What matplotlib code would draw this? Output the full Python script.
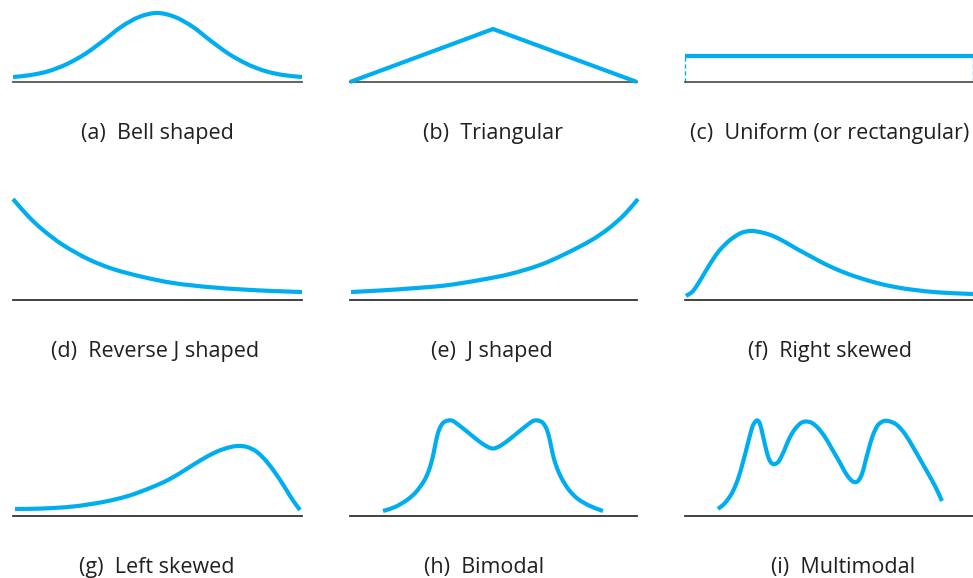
import matplotlib.pyplot as plt
from matplotlib.path import Path
from matplotlib.patches import PathPatch

# Formas de distribuciones: cada curva en unidades locales del panel
# (x a lo largo de la linea base, y altura sobre la linea base)

labels = ['(a)  Bell shaped', '(b)  Triangular', '(c)  Uniform (or rectangular)',
          '(d)  Reverse J shaped', '(e)  J shaped', '(f)  Right skewed',
          '(g)  Left skewed', '(h)  Bimodal', '(i)  Multimodal']

bell_x = [0, 18, 36, 54, 72, 90, 108, 126, 144, 162, 180, 198, 216, 234, 252, 270, 289]
bell_y = [5, 7, 11, 18, 28, 41, 55, 65, 69, 65, 55, 41, 28, 18, 11, 7, 5]

tri_x = [0, 143, 287]
tri_y = [0, 53, 0]

unif_x = [0, 288]
unif_y = [26, 26]

revj_x = [0, 15, 30, 50, 75, 100, 130, 160, 195, 230, 260, 289]
revj_y = [101, 84, 70, 55, 41, 31, 23, 17, 13, 10.5, 9, 8]

j_x = [1, 30, 60, 95, 130, 160, 190, 215, 240, 258, 274, 288]
j_y = [8, 9.5, 11.5, 14.5, 20, 26, 35, 46, 59, 71, 85, 101]

rskew_x = [1, 8, 16, 25, 34, 45, 56, 66, 77, 88, 100, 112, 125, 140, 158, 175, 192, 210, 230, 255, 288]
rskew_y = [4, 9, 21, 36, 49, 60, 67, 69, 67.5, 64, 58, 51, 44, 36, 28, 22, 17, 13, 10, 7.5, 6]

lskew_x = [2, 30, 60, 90, 115, 137, 155, 172, 188, 203, 214, 224, 234, 244, 254, 263, 271, 279, 287]
lskew_y = [7, 7.5, 9.5, 14, 20, 28, 36, 46, 56, 64, 68, 70, 69, 64, 54, 42, 30, 17, 6]

bimod_x = [33, 45, 57, 66, 74, 79, 83, 86, 89, 93, 98, 103, 110, 120, 130, 138, 143, 148,
           156, 166, 176, 183, 188, 193, 197, 200, 203, 207, 212, 219, 228, 240, 253]
bimod_y = [5, 9, 16, 24, 35, 46, 60, 75, 86, 93, 95.5, 95, 90, 82, 74, 69, 67.5, 69,
           74, 82, 90, 95, 95.5, 93, 86, 75, 61, 48, 37, 26, 17, 10, 5]

multi_x = [33, 40, 47, 53, 58, 63, 67, 70, 72.5, 75, 78, 81, 84, 87, 90, 94, 99, 104, 110,
           116, 121, 127, 133, 140, 147, 154, 160, 165, 169, 173, 177, 180, 184, 188, 193,
           199, 205, 212, 220, 228, 236, 244, 251, 257]
multi_y = [7, 13, 23, 37, 54, 73, 88, 94, 95.5, 92, 80, 67, 57, 52.5, 52, 55, 65, 77, 87,
           93, 94.5, 93, 88, 79, 67, 55, 44, 37, 34, 35, 42, 53, 68, 81, 91,
           95, 94.5, 91, 82, 69, 55, 41, 28, 15]

curves = [(bell_x, bell_y), (tri_x, tri_y), (unif_x, unif_y),
          (revj_x, revj_y), (j_x, j_y), (rskew_x, rskew_y),
          (lskew_x, lskew_y), (bimod_x, bimod_y), (multi_x, multi_y)]

# Posicion de los paneles en pixeles (figura 973 x 578)
col_left = [13, 350, 685]
col_width = [289, 287, 288]
row_base = [82, 300, 516]
label_x = [144, 143, 145, 142, 142, 145, 144, 134, 158]

azul = '#00aeef'
W, H = 973, 578


def curva_suave(xs, ys):
    # Catmull-Rom pasando por los puntos leidos, dibujado como Bezier cubico
    p = list(zip(xs, ys))
    ini = (2 * p[0][0] - p[1][0], 2 * p[0][1] - p[1][1])
    fin = (2 * p[-1][0] - p[-2][0], 2 * p[-1][1] - p[-2][1])
    p = [ini] + p + [fin]
    verts = [p[1]]
    codes = [Path.MOVETO]
    for i in range(1, len(p) - 2):
        p0, p1, p2, p3 = p[i - 1], p[i], p[i + 1], p[i + 2]
        c1 = (p1[0] + (p2[0] - p0[0]) / 6, p1[1] + (p2[1] - p0[1]) / 6)
        c2 = (p2[0] - (p3[0] - p1[0]) / 6, p2[1] - (p3[1] - p1[1]) / 6)
        verts += [c1, c2, p2]
        codes += [Path.CURVE4] * 3
    return Path(verts, codes)


fig = plt.figure(figsize=(W / 100, H / 100), dpi=100)

for k, (xs, ys) in enumerate(curves):
    r, c = divmod(k, 3)
    ax = fig.add_axes([col_left[c] / W, (H - row_base[r]) / H,
                       col_width[c] / W, 110 / H])
    ax.set_xlim(0, col_width[c])
    ax.set_ylim(0, 110)
    for s in ['top', 'right', 'left']:
        ax.spines[s].set_visible(False)
    ax.spines['bottom'].set_color('#555555' if r == 0 else '#333333')
    ax.spines['bottom'].set_linewidth(1.3)
    ax.set_xticks([])
    ax.set_yticks([])
    ax.patch.set_alpha(0)

    if k == 1 or k == 2:
        ax.plot(xs, ys, color=azul, lw=3, solid_capstyle='butt', clip_on=False, zorder=3)
    else:
        patch = PathPatch(curva_suave(xs, ys), facecolor='none', edgecolor=azul,
                          lw=3, capstyle='butt', joinstyle='round', clip_on=False, zorder=3)
        ax.add_patch(patch)
    if k == 2:
        # lados punteados del rectangulo
        for xv in xs:
            ax.plot([xv, xv], [0, ys[0]], color=azul, lw=1, ls=(0, (3, 2)), clip_on=False)

    ax.text(label_x[k], -51, labels[k],
            ha='center', va='center', fontsize=15.5, family='Open Sans',
            color='#231f20', clip_on=False)

fig.savefig('out.png', dpi=100)
